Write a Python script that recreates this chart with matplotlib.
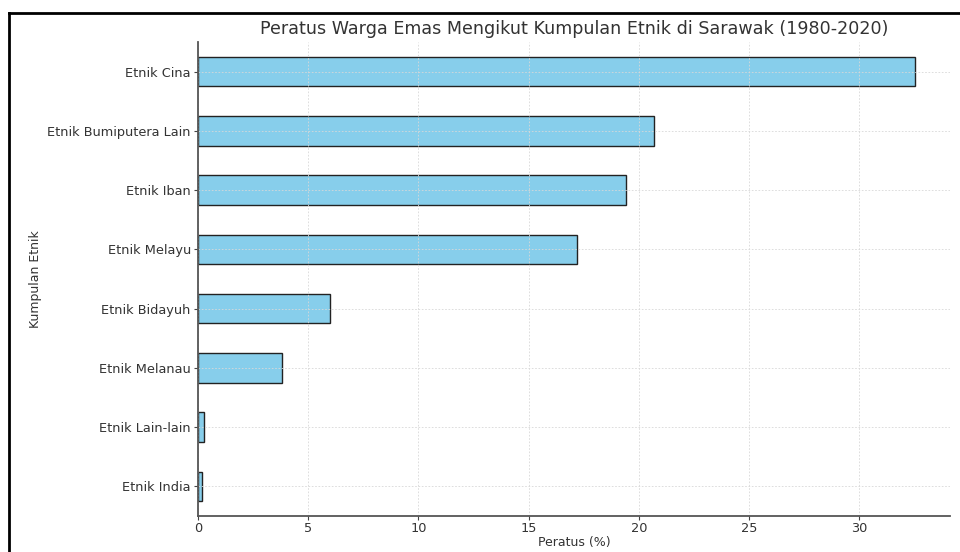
import matplotlib
matplotlib.use("Agg")
import matplotlib.pyplot as plt
from matplotlib.lines import Line2D

categories = ["Etnik India", "Etnik Lain-lain", "Etnik Melanau", "Etnik Bidayuh",
              "Etnik Melayu", "Etnik Iban", "Etnik Bumiputera Lain", "Etnik Cina"]
values = [0.2, 0.3, 3.8, 6.0, 17.2, 19.4, 20.7, 32.5]

fig = plt.figure(figsize=(9.6, 5.52), dpi=100)
ax = fig.add_axes([0.206, 0.065, 0.784, 0.859])

pos = list(range(len(categories)))
ax.barh(pos, values, height=0.5, color="#87CEEB", edgecolor="#222222", linewidth=1.0)
ax.set_yticks(pos)
ax.set_yticklabels(categories)
ax.set_ylim(-0.5, len(categories) - 0.5)
ax.set_xlim(0, max(values) * 1.05)

ax.grid(True, linestyle=(0, (2, 2)), linewidth=0.6, color="#d8d8d8")
for s in ["top", "right"]:
    ax.spines[s].set_visible(False)
for s in ["left", "bottom"]:
    ax.spines[s].set_color("#555555")
    ax.spines[s].set_linewidth(1.3)
ax.tick_params(colors="#444444", labelsize=9.3, length=3, width=0.8, pad=2)
ax.tick_params(axis="x", pad=1)
for lbl in ax.get_xticklabels() + ax.get_yticklabels():
    lbl.set_color("#333333")

ax.set_title("Peratus Warga Emas Mengikut Kumpulan Etnik di Sarawak (1980-2020)",
             fontsize=12.6, color="#333333", pad=6)
ax.set_xlabel("Peratus (%)", fontsize=9, color="#333333", labelpad=1)
ax.set_ylabel("Kumpulan Etnik", fontsize=9, color="#333333")
ax.yaxis.set_label_coords(-0.207, 0.5)

# outer frame (left and top)
fig.add_artist(Line2D([9/960, 9/960], [0, 1 - 13/552], transform=fig.transFigure,
                      color="black", linewidth=2.0))
fig.add_artist(Line2D([9/960, 959/960], [1 - 13/552, 1 - 13/552], transform=fig.transFigure,
                      color="black", linewidth=2.0))

fig.savefig("out.png", dpi=100)
